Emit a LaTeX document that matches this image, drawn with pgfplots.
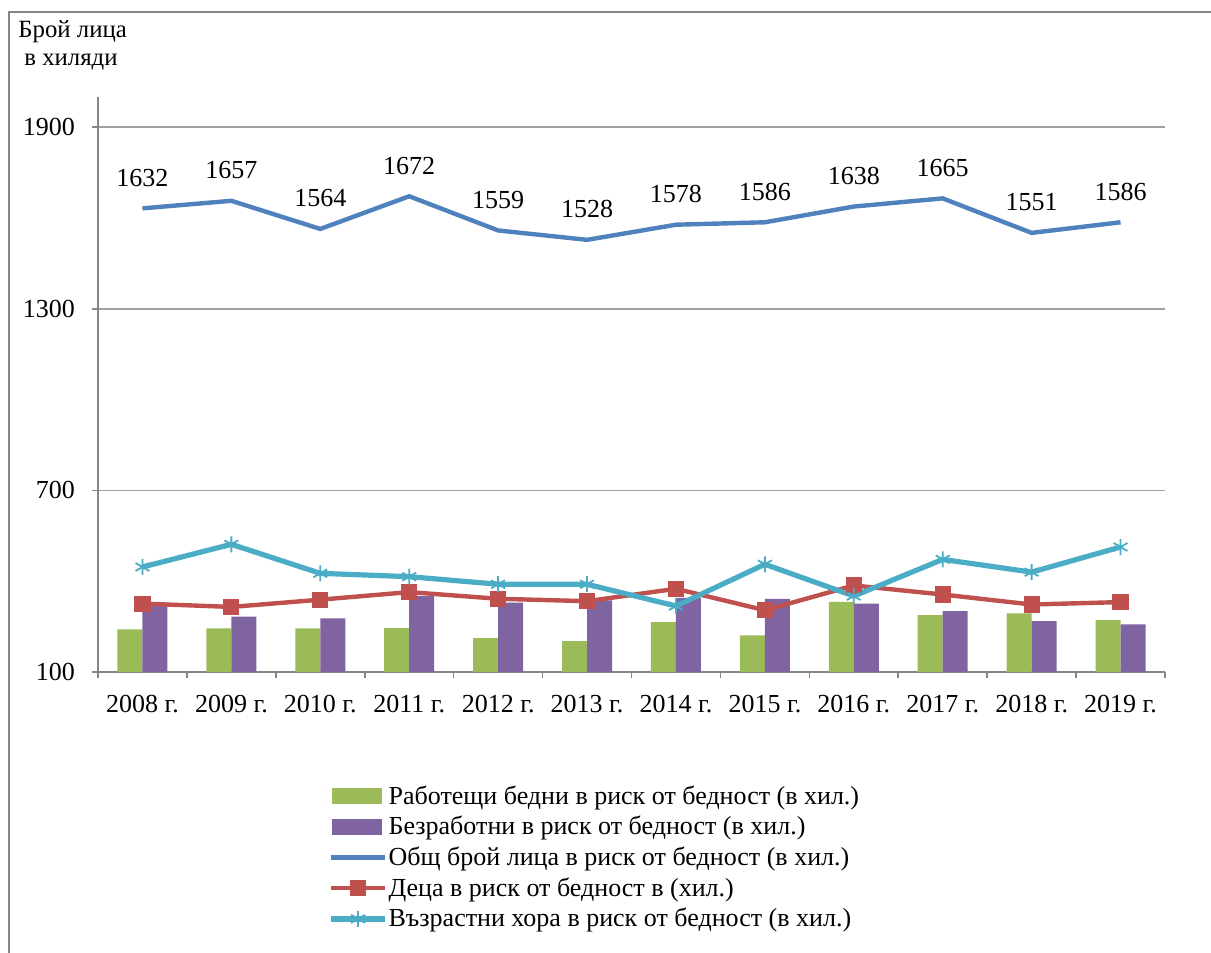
\documentclass[border=0pt]{standalone}
\usepackage{fontspec}
\setmainfont{Liberation Serif}
\usepackage{pgfplots}
\pgfplotsset{compat=1.18}
\definecolor{cgreen}{HTML}{9BBB59}
\definecolor{cpurple}{HTML}{8064A2}
\definecolor{cblue}{HTML}{4F81BD}
\definecolor{cred}{HTML}{C0504D}
\definecolor{ccyan}{HTML}{4BACC6}
\definecolor{cgrid}{HTML}{A0A0A0}
\definecolor{caxis}{HTML}{868686}
\begin{document}
\begin{tikzpicture}
\useasboundingbox (-49pt,-140.5pt) rectangle (556.5pt,336pt);
\draw[caxis, line width=1pt] (-44.5pt,-140.5pt) -- (-44.5pt,330pt) -- (556.5pt,330pt);
\node[anchor=north west, align=left, inner sep=0pt, font=\fontsize{12.4}{14}\selectfont] at (-40pt,326pt) {Брой лица\\\hspace*{3pt}в хиляди};
\begin{axis}[
  at={(0pt,0pt)}, anchor=south west,
  scale only axis, width=533.5pt, height=287.5pt,
  xmin=-0.5, xmax=11.5, ymin=100, ymax=2000,
  axis x line*=bottom, axis y line*=left,
  axis line style={caxis, line width=0.8pt, -},
  xtick={-0.5,0.5,1.5,2.5,3.5,4.5,5.5,6.5,7.5,8.5,9.5,10.5,11.5},
  xticklabels={2008 г.,2009 г.,2010 г.,2011 г.,2012 г.,2013 г.,2014 г.,2015 г.,2016 г.,2017 г.,2018 г.,2019 г.},
  x tick label as interval,
  ytick={100,700,1300,1900},
  ymajorgrids, grid style={cgrid, line width=0.8pt},
  tick align=outside, major tick length=3pt,
  tick style={caxis, line width=0.8pt},
  tick label style={font=\fontsize{13}{15}\selectfont, black},
  /pgf/number format/assume math mode=true,
  /pgf/number format/1000 sep={},
  xticklabel style={yshift=-5pt},
  yticklabel style={xshift=-5pt},
  legend style={at={(axis description cs:0.2156,-0.19)}, anchor=north west, draw=none, fill=none,
    font=\fontsize{13}{15}\selectfont, row sep=0.5pt, inner sep=0pt, nodes={inner xsep=0.5pt, inner ysep=2pt}},
  legend cell align=left,
  legend image code/.code={\draw[mark repeat=2,mark phase=2,#1] plot coordinates {(0pt,0pt) (13.5pt,0pt) (27pt,0pt)};},
]
\addplot[ybar, bar width=12.5pt, bar shift=-6.25pt, fill=cgreen, draw=none,
  legend image code/.code={\fill[cgreen] (0.5pt,-4pt) rectangle (25.5pt,4pt);}]
  coordinates {(0,241) (1,244) (2,244) (3,245) (4,212) (5,202) (6,265) (7,221) (8,332) (9,288) (10,294) (11,271)};
\addlegendentry{Работещи бедни в риск от бедност (в хил.)}
\addplot[ybar, bar width=12.5pt, bar shift=6.25pt, fill=cpurple, draw=none,
  legend image code/.code={\fill[cpurple] (0.5pt,-4pt) rectangle (25.5pt,4pt);}]
  coordinates {(0,318) (1,283) (2,277) (3,351) (4,329) (5,337) (6,345) (7,342) (8,326) (9,301) (10,268) (11,257)};
\addlegendentry{Безработни в риск от бедност (в хил.)}
\addplot[cblue, line width=2.2pt, mark=none,
  nodes near coords, nodes near coords align={above},
  every node near coord/.append style={black, font=\fontsize{13}{15}\selectfont, yshift=6.5pt}]
  coordinates {(0,1632) (1,1657) (2,1564) (3,1672) (4,1559) (5,1528) (6,1578) (7,1586) (8,1638) (9,1665) (10,1551) (11,1586)};
\addlegendentry{Общ брой лица в риск от бедност (в хил.)}
\addplot[cred, line width=2.2pt, mark=square*, mark size=3.8pt, mark options={fill=cred, draw=cred, line width=0.5pt}]
  coordinates {(0,326) (1,315) (2,339) (3,364) (4,342) (5,334) (6,375) (7,304) (8,386) (9,356) (10,323) (11,331)};
\addlegendentry{Деца в риск от бедност в (хил.)}
\addplot[ccyan, line width=2.6pt, mark=asterisk, mark size=4pt, mark options={line width=0.9pt}]
  coordinates {(0,447) (1,522) (2,426) (3,415) (4,390) (5,390) (6,318) (7,456) (8,351) (9,472) (10,430) (11,513)};
\addlegendentry{Възрастни хора в риск от бедност (в хил.)}
\end{axis}
\end{tikzpicture}
\end{document}
